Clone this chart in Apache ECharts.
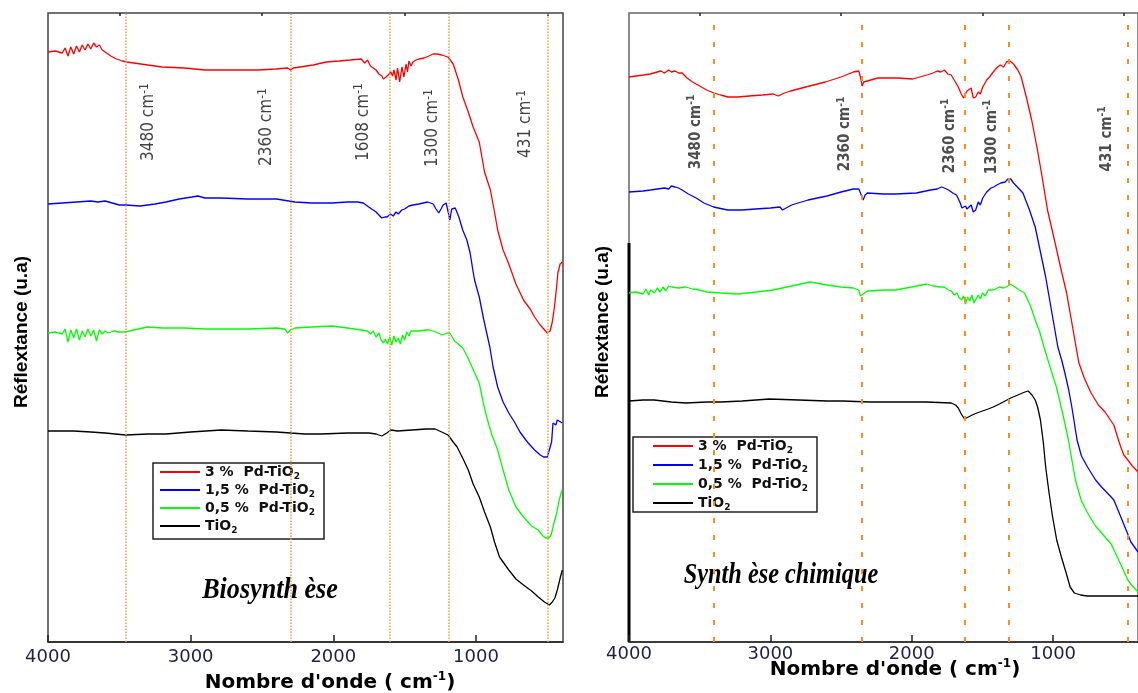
<!DOCTYPE html>
<html>
<head>
<meta charset="utf-8">
<script src="https://cdn.jsdelivr.net/npm/echarts@6/dist/echarts.min.js"></script>
<style>
html, body { margin: 0; padding: 0; background: #fff; }
#main { width: 1138px; height: 693px; }
</style>
</head>
<body>
<div id="main"></div>
<script>
// noms des échantillons
var names = ['3 % Pd-TiO2', '1,5 % Pd-TiO2', '0,5 % Pd-TiO2', 'TiO2'];
var colors = ['#ff0000', '#0000ff', '#00ff00', '#000000'];

// graduations de l'axe x (cm-1)
var tickMajor = [4000, 3000, 2000, 1000];
var tickMinor = [3500, 2500, 1500, 500];

// Biosynthèse : [nombre d'onde, réflectance u.a]
var bioRed = [[4000,590],[3950,591],[3900,589],[3880,594],[3860,586],[3840,595],[3820,588],[3800,596],[3780,590],[3760,597],[3740,592],[3720,598],[3700,593],[3680,599],[3660,595],[3640,597],[3620,592],[3600,590],[3580,588],[3560,586],[3520,583],[3480,581],[3450,580],[3400,579],[3300,577],[3200,575],[3044,574],[2900,572],[2786,572],[2650,572],[2527,572],[2400,573],[2320,574],[2300,572],[2280,574],[2140,577],[2050,580],[1959,581],[1880,582],[1804,583],[1780,579],[1760,582],[1740,576],[1726,577],[1700,572],[1680,568],[1660,566],[1649,563],[1630,565],[1615,567],[1597,570],[1585,566],[1575,572],[1560,562],[1550,574],[1535,560],[1519,575],[1505,565],[1490,578],[1480,570],[1470,581],[1455,576],[1442,580],[1420,582],[1400,583],[1364,584],[1330,586],[1300,588],[1274,588],[1240,587],[1196,585],[1160,578],[1125,563],[1092,545],[1054,530],[1020,515],[977,500],[940,470],[899,452],[870,430],[848,412],[810,392],[770,378],[720,358],[667,342],[620,333],[589,325],[550,317],[500,309],[480,311],[465,320],[450,335],[435,355],[426,369],[410,378],[395,380]];
var bioBlue = [[4000,438],[3900,439],[3800,440],[3700,441],[3690,443],[3650,440],[3600,441],[3550,439],[3500,437],[3457,437],[3354,436],[3250,438],[3173,440],[3080,443],[2992,445],[2950,446],[2900,444],[2786,444],[2600,443],[2398,443],[2269,440],[2150,439],[2010,439],[1900,440],[1830,440],[1790,439],[1752,435],[1700,430],[1661,424],[1640,425],[1623,425],[1600,428],[1580,426],[1560,430],[1545,428],[1520,432],[1500,433],[1470,436],[1442,437],[1400,438],[1339,440],[1300,438],[1280,433],[1261,429],[1245,433],[1230,437],[1209,439],[1195,430],[1183,422],[1170,433],[1145,434],[1120,425],[1093,412],[1064,402],[1041,389],[1022,372],[1010,362],[977,345],[945,322],[903,295],[880,275],[848,255],[810,240],[770,229],[730,220],[692,210],[640,200],[589,192],[550,187],[525,185],[500,185],[486,187],[470,200],[460,219],[450,220],[440,217],[430,222],[421,220],[395,219]];
var bioGreen = [[4000,309],[3950,310],[3900,308],[3880,313],[3860,300],[3840,312],[3820,304],[3800,313],[3780,302],[3760,311],[3740,305],[3720,313],[3700,306],[3680,312],[3660,301],[3640,312],[3620,308],[3600,311],[3580,309],[3540,311],[3500,310],[3457,310],[3400,312],[3302,315],[3200,314],[3044,314],[2900,313],[2786,313],[2600,313],[2398,314],[2340,313],[2320,309],[2300,312],[2269,314],[2150,315],[2010,316],[1900,314],[1804,312],[1760,311],[1740,308],[1720,311],[1700,305],[1680,309],[1665,302],[1649,299],[1635,303],[1620,298],[1605,305],[1590,297],[1575,306],[1560,300],[1545,304],[1530,298],[1515,307],[1500,302],[1485,310],[1470,306],[1455,311],[1442,310],[1400,311],[1350,312],[1326,312],[1280,310],[1235,307],[1200,309],[1183,309],[1150,301],[1092,294],[1060,285],[1028,275],[977,259],[950,240],[925,225],[890,208],[848,192],[810,172],[770,152],[720,135],[667,125],[610,116],[563,112],[530,106],[512,104],[490,104],[473,107],[455,118],[434,129],[420,140],[403,149],[395,152]];
var bioBlack = [[4000,211],[3900,211],[3819,211],[3700,210],[3600,209],[3457,207],[3300,208],[3173,208],[3000,210],[2786,212],[2600,211],[2398,210],[2300,209],[2200,208],[2088,208],[1900,209],[1752,209],[1700,208],[1660,206],[1649,207],[1625,209],[1597,212],[1550,211],[1450,212],[1350,213],[1287,213],[1240,210],[1196,207],[1160,200],[1132,195],[1090,183],[1054,172],[1020,158],[977,145],[940,130],[899,115],[870,100],[835,85],[800,78],[770,72],[720,63],[667,57],[610,51],[563,45],[520,40],[486,37],[465,40],[447,44],[430,52],[408,65],[395,72]];

// Synthèse chimique
var chiRed = [[4000,565],[3950,566],[3896,567],[3850,568],[3800,570],[3773,571],[3750,569],[3720,572],[3700,570],[3674,571],[3650,569],[3624,569],[3590,564],[3550,560],[3500,556],[3451,552],[3400,549],[3352,547],[3300,545],[3229,545],[3150,546],[3056,547],[2980,548],[2945,546],[2932,548],[2900,549],[2858,551],[2750,555],[2611,560],[2500,565],[2413,570],[2375,571],[2363,565],[2351,556],[2340,560],[2326,562],[2240,564],[2100,564],[1993,563],[1894,567],[1850,569],[1820,571],[1795,570],[1770,572],[1745,568],[1721,567],[1700,562],[1671,555],[1650,548],[1634,544],[1620,546],[1610,551],[1597,549],[1580,554],[1565,544],[1548,545],[1530,550],[1515,548],[1498,555],[1470,562],[1450,565],[1424,570],[1400,574],[1375,577],[1350,575],[1330,580],[1305,581],[1280,578],[1250,572],[1226,565],[1190,545],[1152,522],[1115,495],[1078,465],[1040,432],[991,402],[950,376],[905,349],[875,325],[843,299],[818,279],[780,264],[732,249],[680,237],[633,230],[600,223],[571,217],[545,205],[522,195],[500,187],[472,182],[440,176],[400,170]];
var chiBlue = [[4000,450],[3900,451],[3847,452],[3800,453],[3748,454],[3720,453],[3700,456],[3674,455],[3650,454],[3624,452],[3580,448],[3525,444],[3470,439],[3402,435],[3303,432],[3200,432],[3105,433],[3000,434],[2932,435],[2915,432],[2907,434],[2850,437],[2734,442],[2600,446],[2500,450],[2413,453],[2375,453],[2363,449],[2344,442],[2330,447],[2314,449],[2200,448],[2116,448],[1968,449],[1900,451],[1869,452],[1820,453],[1790,455],[1770,454],[1740,452],[1710,449],[1684,447],[1660,440],[1645,434],[1634,432],[1620,436],[1610,433],[1597,435],[1580,437],[1565,430],[1548,432],[1530,440],[1515,437],[1498,444],[1470,450],[1440,454],[1420,455],[1399,457],[1370,459],[1340,460],[1320,463],[1300,463],[1280,459],[1240,453],[1214,449],[1170,433],[1127,415],[1090,390],[1053,365],[1010,330],[967,295],[940,282],[917,269],[890,252],[868,235],[831,202],[800,186],[757,175],[700,162],[658,155],[610,148],[571,142],[530,128],[484,112],[450,100],[400,90]];
var chiGreen = [[4000,349],[3950,350],[3900,348],[3880,353],[3860,347],[3847,352],[3820,349],[3800,354],[3780,350],[3760,355],[3740,351],[3720,356],[3698,355],[3650,354],[3599,355],[3550,353],[3501,352],[3450,350],[3352,349],[3229,348],[3100,350],[2981,352],[2850,356],[2722,360],[2600,357],[2500,355],[2413,354],[2375,352],[2363,346],[2350,348],[2314,351],[2200,352],[2116,352],[2000,355],[1894,358],[1850,356],[1800,355],[1770,355],[1740,352],[1720,351],[1700,347],[1680,349],[1665,344],[1647,342],[1635,346],[1620,338],[1605,345],[1590,341],[1575,347],[1560,339],[1548,340],[1530,347],[1515,343],[1500,349],[1480,346],[1460,352],[1449,350],[1420,352],[1380,355],[1350,354],[1320,356],[1305,358],[1270,355],[1240,352],[1202,349],[1160,336],[1127,322],[1095,310],[1065,295],[1020,274],[977,255],[935,230],[892,202],[865,180],[843,162],[800,141],[757,129],[700,116],[633,105],[590,98],[546,85],[510,74],[472,62],[440,56],[400,50]];
var chiBlack = [[4000,241],[3900,242],[3822,242],[3700,240],[3599,239],[3450,240],[3352,240],[3200,241],[3006,243],[2800,242],[2600,241],[2487,241],[2300,240],[2116,240],[1900,240],[1721,239],[1690,237],[1671,234],[1650,228],[1627,223],[1600,225],[1572,227],[1540,229],[1500,231],[1460,233],[1424,235],[1380,238],[1340,241],[1300,244],[1250,247],[1200,250],[1177,251],[1150,247],[1127,242],[1110,235],[1090,222],[1070,200],[1053,175],[1030,150],[1004,125],[975,102],[942,85],[910,70],[880,55],[850,49],[806,47],[760,46],[707,46],[600,46],[500,46],[472,46],[400,46]];

// bandes repérées (lignes pointillées) et leurs étiquettes
var bioMarks = [3453, 2297, 1603, 1190, 496];
var bioLabels = ['3480', '2360', '1608', '1300', '431'];
var bioLabelPos = [[3292, 520], [2465, 515], [1786, 520], [1302, 514], [650, 518]];
var chiMarks = [3400, 2354, 1625, 1314, 470];
var chiLabels = ['3480', '2360', '2360', '1300', '431'];
var chiLabelPos = [[3527, 510], [2469, 508], [1731, 506], [1432, 505], [618, 503]];

var bioSeries = [bioRed, bioBlue, bioGreen, bioBlack];
var chiSeries = [chiRed, chiBlue, chiGreen, chiBlack];

var myChart = echarts.init(document.getElementById('main'));

var tickFont = '"DejaVu Sans", sans-serif';
var boldFont = '"Liberation Sans", Arial, sans-serif';
var narrowFont = '"Liberation Sans Narrow", "DejaVu Sans Condensed", "Liberation Sans", sans-serif';

function xAxes(grid, min, margin) {
    return [{
        gridIndex: grid,
        type: 'value',
        inverse: true,
        min: min,
        max: 4000,
        axisLine: { show: true, lineStyle: { color: '#222', width: 1.5 } },
        axisTick: { show: true, inside: true, length: 7, customValues: tickMajor, lineStyle: { color: '#222', width: 1.5 } },
        axisLabel: { customValues: tickMajor, margin: margin, color: '#1f1f4d', fontSize: 18, fontFamily: tickFont,
            formatter: function(v) { return String(v); } },
        splitLine: { show: false }
    }, {
        gridIndex: grid,
        type: 'value',
        inverse: true,
        min: min,
        max: 4000,
        axisLine: { show: false },
        axisTick: { show: true, inside: true, length: 3, customValues: tickMinor, lineStyle: { color: '#222', width: 1.5 } },
        axisLabel: { show: false },
        splitLine: { show: false }
    }];
}

function yAxis(grid) {
    return {
        gridIndex: grid, type: 'value', min: 0, max: 629,
        axisLine: { show: false }, axisTick: { show: false },
        axisLabel: { show: false }, splitLine: { show: false }
    };
}

var series = [];
for (var i = 0; i < 4; i++) {
    series.push({ name: names[i], type: 'line', xAxisIndex: 0, yAxisIndex: 0, data: bioSeries[i],
        showSymbol: false, symbol: 'none', lineStyle: { color: colors[i], width: 1.3 }, itemStyle: { color: colors[i] } });
    series.push({ name: names[i], type: 'line', xAxisIndex: 2, yAxisIndex: 1, data: chiSeries[i],
        showSymbol: false, symbol: 'none', lineStyle: { color: colors[i], width: 1.3 }, itemStyle: { color: colors[i] } });
}

//lignes pointillées
series.push({
    name: 'bandesBio', type: 'line', xAxisIndex: 0, yAxisIndex: 0, data: [],
    markLine: {
        silent: true, symbol: ['none', 'none'], label: { show: false },
        lineStyle: { color: '#ff9933', type: [1.5, 1.5], width: 1.5 },
        data: bioMarks.map(function(v) { return { xAxis: v }; })
    }
});
series.push({
    name: 'bandesChi', type: 'line', xAxisIndex: 2, yAxisIndex: 1, data: [],
    markLine: {
        silent: true, symbol: ['none', 'none'], label: { show: false },
        lineStyle: { color: '#ff8c1a', type: [5, 12], width: 2 },
        data: chiMarks.map(function(v) { return { xAxis: v }; })
    }
});

//étiquettes verticales
function labelSeries(xi, yi, pos, texts, size, weight, color) {
    return {
        name: 'etiq' + xi, type: 'scatter', xAxisIndex: xi, yAxisIndex: yi,
        data: pos, symbolSize: 0.01, itemStyle: { color: 'rgba(0,0,0,0)' }, silent: true,
        label: {
            show: true, position: 'inside', rotate: 90, align: 'center', verticalAlign: 'middle',
            formatter: function(p) { return '{a|' + texts[p.dataIndex] + ' cm}{sup|-1}'; },
            rich: {
                a: { fontSize: size, fontWeight: weight, fontFamily: narrowFont, color: color, lineHeight: size + 4 },
                sup: { fontSize: size - 5, fontWeight: weight, fontFamily: narrowFont, color: color, lineHeight: size - 5, verticalAlign: 'top' }
            }
        }
    };
}
series.push(labelSeries(0, 0, bioLabelPos, bioLabels, 17, 'normal', '#111'));
series.push(labelSeries(2, 1, chiLabelPos, chiLabels, 15, 'bold', '#222'));

function legendOf(left, top, gap, padding) {
    return {
        data: names, orient: 'vertical', left: left, top: top, itemGap: gap, padding: padding,
        borderColor: '#222', borderWidth: 1.5, itemWidth: 40, itemHeight: 2, icon: 'rect',
        selectedMode: false,
        formatter: function(name) {
            return '{t|' + name.replace('% ', '%  ').replace(/2$/, '') + '}{sub|2}';
        },
        textStyle: {
            rich: {
                t: { fontSize: 14, fontWeight: 'bold', fontFamily: tickFont, color: '#111', lineHeight: 18 },
                sub: { fontSize: 9, fontWeight: 'bold', fontFamily: tickFont, color: '#111', lineHeight: 9, verticalAlign: 'bottom' }
            }
        }
    };
}

var titleRich = {
    t: { fontSize: 20, fontWeight: 'bold', fontFamily: tickFont, fill: '#000', lineHeight: 24 },
    sup: { fontSize: 12, fontWeight: 'bold', fontFamily: tickFont, fill: '#000', lineHeight: 12, verticalAlign: 'top' }
};

var option = {
    animation: false,
    backgroundColor: '#fff',
    grid: [
        { left: 48, right: 575, top: 13, bottom: 51, show: true, borderColor: '#444', borderWidth: 1.5 },
        { left: 629, right: -8, top: 13, bottom: 51, show: true, borderColor: '#666', borderWidth: 1.5 }
    ],
    xAxis: xAxes(0, 390, 6).concat(xAxes(1, 400, 3)),
    yAxis: [yAxis(0), yAxis(1)],
    legend: [legendOf(153, 463, 2, [2, 9, 4, 7]), legendOf(633, 437, 3, [2, 9, 0, 20])],
    series: series,
    graphic: [
        { type: 'line', shape: { x1: 629, y1: 243, x2: 629, y2: 642 }, style: { stroke: '#000', lineWidth: 3 } },
        { type: 'text', x: 22, y: 332, rotation: Math.PI / 2,
          style: { text: 'Réflextance (u.a)', align: 'center', verticalAlign: 'middle', font: 'bold 19px ' + boldFont, fill: '#000' } },
        { type: 'text', x: 603, y: 322, rotation: Math.PI / 2,
          style: { text: 'Réflextance (u.a)', align: 'center', verticalAlign: 'middle', font: 'bold 19px ' + boldFont, fill: '#000' } },
        { type: 'text', x: 330, y: 683,
          style: { text: "{t|Nombre d'onde ( cm}{sup|-1}{t|)}", align: 'center', verticalAlign: 'middle', rich: titleRich } },
        { type: 'text', x: 895, y: 670,
          style: { text: "{t|Nombre d'onde ( cm}{sup|-1}{t|)}", align: 'center', verticalAlign: 'middle', rich: titleRich } },
        { type: 'text', x: 270, y: 590, scaleX: 0.87,
          style: { text: 'Biosynth èse', align: 'center', verticalAlign: 'middle', font: 'italic bold 30px "Liberation Serif", serif', fill: '#000' } },
        { type: 'text', x: 781, y: 575, scaleX: 0.81,
          style: { text: 'Synth èse chimique', align: 'center', verticalAlign: 'middle', font: 'italic bold 30px "Liberation Serif", serif', fill: '#000' } }
    ]
};
myChart.setOption(option);
</script>
</body>
</html>
